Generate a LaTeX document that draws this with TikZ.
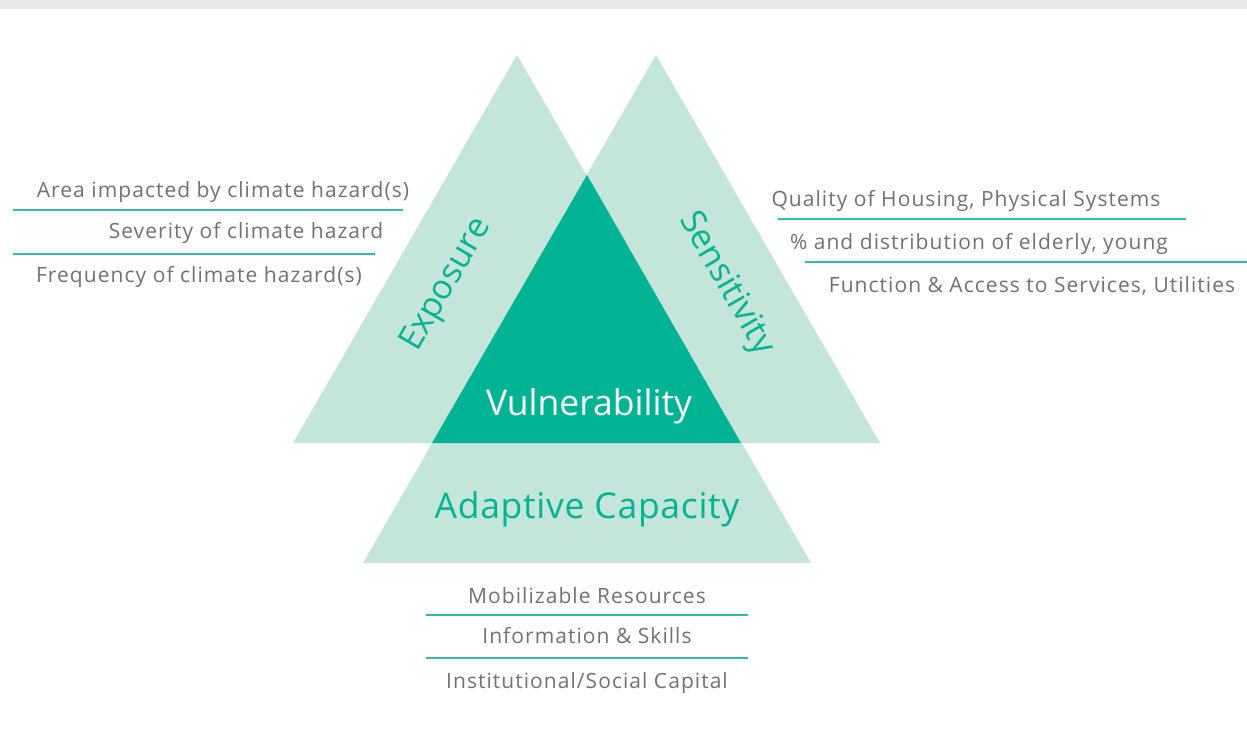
\documentclass[tikz,border=0pt]{standalone}
\usepackage{fontspec}
\setmainfont{Open Sans}
\definecolor{mmint}{RGB}{196,229,218}
\definecolor{mteal}{RGB}{0,180,147}
\definecolor{mgray}{RGB}{112,113,117}
\definecolor{mband}{RGB}{230,231,232}
\definecolor{mline}{RGB}{43,190,160}
\newcommand*{\colTri}{mmint}
\newcommand*{\colVul}{mteal}
\newcommand*{\colTxt}{mgray}
\newcommand*{\colSep}{mline}
\newcommand*{\yBase}{443}
\newcommand*{\yCap}{563}
\tikzset{
    item/.style={anchor=base, text=\colTxt, font=\fontsize{21}{24}\selectfont\addfontfeatures{LetterSpace=5}, inner sep=0pt},
    title/.style={text=\colVul, font=\fontsize{34}{38}\selectfont, inner sep=0pt},
    sep/.style={draw=\colSep, line width=1.6pt}
}

\begin{document}
\begin{tikzpicture}[x=1pt,y=-1pt]

    \useasboundingbox (0,0) rectangle (1247,730);
    \fill [mband] (0,0) rectangle (1247,9);

    % the three light triangles
    \fill [\colTri] (293,\yBase) -- (741,\yBase) -- (517,55) -- cycle;
    \fill [\colTri] (432,\yBase) -- (880,\yBase) -- (656,55) -- cycle;
    \fill [\colTri] (363,\yCap) -- (811,\yCap) -- (587,175) -- cycle;
    % overlap
    \fill [\colVul] (432,\yBase) -- (741,\yBase) -- (587,175) -- cycle;

    \node [title, rotate=60] (exp) at (447,285) {Exposure};
    \node [title, rotate=-60] (sen) at (726,284) {Sensitivity};
    \node [title, anchor=base, text=white, font=\fontsize{35.5}{40}\selectfont] (vul) at (589,415) {Vulnerability};
    \node [title, anchor=base, font=\fontsize{35.5}{40}\selectfont\addfontfeatures{LetterSpace=2}] (ada) at (587,518) {Adaptive Capacity};

    % exposure list
    \node [item] (exp1) at (223,198) {Area impacted by climate hazard(s)};
    \node [item] (exp2) at (246,238) {Severity of climate hazard};
    \node [item] (exp3) at (199,282) {Frequency of climate hazard(s)};
    \draw [sep] (13,210) -- (403,210);
    \draw [sep] (13,254) -- (375,254);

    % sensitivity list
    \node [item] (sen1) at (966,207) {Quality of Housing, Physical Systems};
    \node [item] (sen2) at (979,249) {\% and distribution of elderly, young};
    \node [item] (sen3) at (1032,292) {Function \& Access to Services, Utilities};
    \draw [sep] (778,219) -- (1186,219);
    \draw [sep] (805,262) -- (1247,262);

    % adaptive capacity list
    \node [item] (ada1) at (587,603) {Mobilizable Resources};
    \node [item] (ada2) at (587,643) {Information \& Skills};
    \node [item] (ada3) at (587,688) {Institutional/Social Capital};
    \foreach \y in {615,658} {
        \draw [sep] (426,\y) -- (748,\y);
    }

\end{tikzpicture}
\end{document}
